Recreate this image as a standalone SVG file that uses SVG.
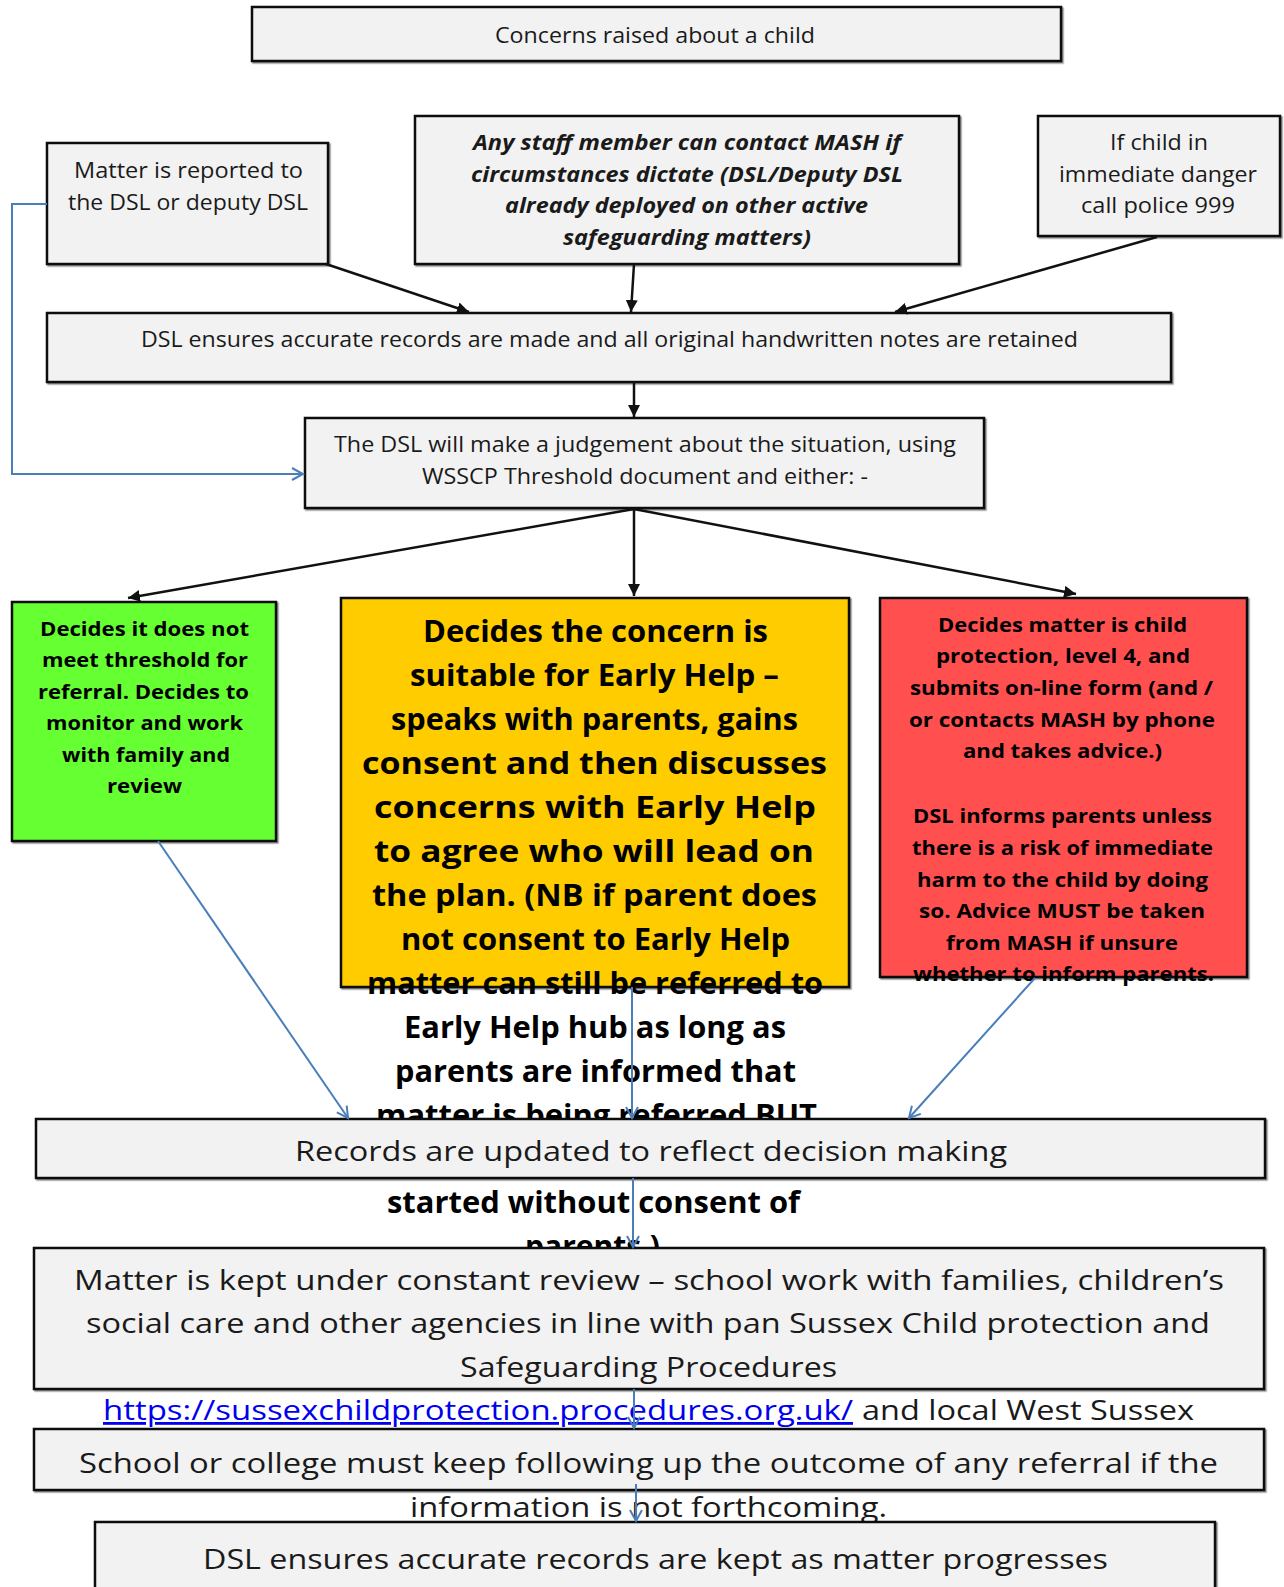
<svg xmlns="http://www.w3.org/2000/svg" width="1284" height="1587" viewBox="0 0 1284 1587">
<style>
.box{fill:#f2f2f2;stroke:#111;stroke-width:2.5;filter:url(#sh)}
.g{fill:#66ff33;stroke:#111;stroke-width:2.5;filter:url(#sh)}
.y{fill:#ffcc00;stroke:#111;stroke-width:2.5;filter:url(#sh)}
.r{fill:#ff5050;stroke:#111;stroke-width:2.5;filter:url(#sh)}
text{font-family:"Open Sans","Noto Sans","Liberation Sans",sans-serif;fill:#1a1a1a}
.t22{font-size:22px}
.t28{font-size:28px}
.bi{font-size:21px;font-weight:bold;font-style:italic}
.b20{font-size:20px;font-weight:bold;fill:#000}
.b30{font-size:30px;font-weight:bold;fill:#000}
.link{fill:#0000ee;text-decoration:underline}
.blk{stroke:#111;stroke-width:2.5;fill:none;marker-end:url(#ab)}
.blu{stroke:#4a7ebb;stroke-width:2;fill:none;marker-end:url(#au)}
</style>
<defs>
<filter id="sh" x="-5%" y="-5%" width="110%" height="115%">
<feDropShadow dx="1.5" dy="1.5" stdDeviation="0.7" flood-color="#000" flood-opacity="0.45"/>
</filter>
<marker id="ab" markerUnits="userSpaceOnUse" markerWidth="14" markerHeight="12" refX="12" refY="6" orient="auto">
<path d="M0,0 L12,6 L0,12 z" fill="#111"/>
</marker>
<marker id="au" markerUnits="userSpaceOnUse" markerWidth="14" markerHeight="14" refX="12" refY="7" orient="auto">
<path d="M1,1 L12,7 L1,13" fill="none" stroke="#4a7ebb" stroke-width="2"/>
</marker>
</defs>
<rect width="1284" height="1587" fill="#fff"/>

<g id="n-concerns">
<rect class="box" x="252" y="7" width="809" height="54"/>
<text class="t22" x="495" y="43" textLength="320" lengthAdjust="spacingAndGlyphs">Concerns raised about a child</text>
</g>

<g id="n-reported">
<rect class="box" x="47" y="143" width="281" height="121"/>
<text class="t22" x="74" y="178" textLength="229" lengthAdjust="spacingAndGlyphs">Matter is reported to</text>
<text class="t22" x="68" y="210" textLength="240" lengthAdjust="spacingAndGlyphs">the DSL or deputy DSL</text>
</g>

<g id="n-mash">
<rect class="box" x="415" y="116" width="544" height="148"/>
<text class="bi" x="473" y="150" textLength="428" lengthAdjust="spacingAndGlyphs">Any staff member can contact MASH if</text>
<text class="bi" x="471" y="182" textLength="432" lengthAdjust="spacingAndGlyphs">circumstances dictate (DSL/Deputy DSL</text>
<text class="bi" x="505" y="213" textLength="363" lengthAdjust="spacingAndGlyphs">already deployed on other active</text>
<text class="bi" x="563" y="245" textLength="248" lengthAdjust="spacingAndGlyphs">safeguarding matters)</text>
</g>

<g id="n-police">
<rect class="box" x="1038" y="116" width="242" height="120"/>
<text class="t22" x="1110" y="150" textLength="98" lengthAdjust="spacingAndGlyphs">If child in</text>
<text class="t22" x="1059" y="182" textLength="198" lengthAdjust="spacingAndGlyphs">immediate danger</text>
<text class="t22" x="1081" y="213" textLength="154" lengthAdjust="spacingAndGlyphs">call police 999</text>
</g>

<g id="n-records1">
<rect class="box" x="47" y="313" width="1124" height="69"/>
<text class="t22" x="141" y="347" textLength="937" lengthAdjust="spacingAndGlyphs">DSL ensures accurate records are made and all original handwritten notes are retained</text>
</g>

<g id="n-judgement">
<rect class="box" x="305" y="418" width="679" height="90"/>
<text class="t22" x="334" y="452" textLength="622" lengthAdjust="spacingAndGlyphs">The DSL will make a judgement about the situation, using</text>
<text class="t22" x="422" y="484" textLength="446" lengthAdjust="spacingAndGlyphs">WSSCP Threshold document and either: -</text>
</g>

<g id="n-green">
<rect class="g" x="12" y="602" width="264" height="239"/>
<text class="b20" x="40" y="636" textLength="209" lengthAdjust="spacingAndGlyphs">Decides it does not</text>
<text class="b20" x="42" y="667" textLength="206" lengthAdjust="spacingAndGlyphs">meet threshold for</text>
<text class="b20" x="38" y="699" textLength="211" lengthAdjust="spacingAndGlyphs">referral. Decides to</text>
<text class="b20" x="46" y="730" textLength="197" lengthAdjust="spacingAndGlyphs">monitor and work</text>
<text class="b20" x="62" y="762" textLength="168" lengthAdjust="spacingAndGlyphs">with family and</text>
<text class="b20" x="107" y="793" textLength="75" lengthAdjust="spacingAndGlyphs">review</text>
</g>

<g id="n-red">
<rect class="r" x="880" y="598" width="367" height="379"/>
<text class="b20" x="938" y="632" textLength="249" lengthAdjust="spacingAndGlyphs">Decides matter is child</text>
<text class="b20" x="936" y="663" textLength="254" lengthAdjust="spacingAndGlyphs">protection, level 4, and</text>
<text class="b20" x="910" y="695" textLength="303" lengthAdjust="spacingAndGlyphs">submits on-line form (and /</text>
<text class="b20" x="909" y="727" textLength="306" lengthAdjust="spacingAndGlyphs">or contacts MASH by phone</text>
<text class="b20" x="963" y="758" textLength="199" lengthAdjust="spacingAndGlyphs">and takes advice.)</text>
<text class="b20" x="913" y="823" textLength="299" lengthAdjust="spacingAndGlyphs">DSL informs parents unless</text>
<text class="b20" x="912" y="855" textLength="301" lengthAdjust="spacingAndGlyphs">there is a risk of immediate</text>
<text class="b20" x="917" y="887" textLength="291" lengthAdjust="spacingAndGlyphs">harm to the child by doing</text>
<text class="b20" x="919" y="918" textLength="286" lengthAdjust="spacingAndGlyphs">so. Advice MUST be taken</text>
<text class="b20" x="946" y="950" textLength="232" lengthAdjust="spacingAndGlyphs">from MASH if unsure</text>
<text class="b20" x="913" y="981" textLength="301" lengthAdjust="spacingAndGlyphs">whether to inform parents.</text>
</g>

<g id="n-yellow">
<rect class="y" x="341" y="598" width="508" height="389"/>
<text class="b30" x="423" y="642" textLength="345" lengthAdjust="spacingAndGlyphs">Decides the concern is</text>
<text class="b30" x="410" y="686" textLength="369" lengthAdjust="spacingAndGlyphs">suitable for Early Help –</text>
<text class="b30" x="391" y="730" textLength="407" lengthAdjust="spacingAndGlyphs">speaks with parents, gains</text>
<text class="b30" x="362" y="774" textLength="465" lengthAdjust="spacingAndGlyphs">consent and then discusses</text>
<text class="b30" x="374" y="818" textLength="442" lengthAdjust="spacingAndGlyphs">concerns with Early Help</text>
<text class="b30" x="374" y="862" textLength="440" lengthAdjust="spacingAndGlyphs">to agree who will lead on</text>
<text class="b30" x="372" y="906" textLength="445" lengthAdjust="spacingAndGlyphs">the plan. (NB if parent does</text>
<text class="b30" x="401" y="950" textLength="389" lengthAdjust="spacingAndGlyphs">not consent to Early Help</text>
<text class="b30" x="367" y="994" textLength="456" lengthAdjust="spacingAndGlyphs">matter can still be referred to</text>
<text class="b30" x="404" y="1038" textLength="382" lengthAdjust="spacingAndGlyphs">Early Help hub as long as</text>
<text class="b30" x="395" y="1082" textLength="401" lengthAdjust="spacingAndGlyphs">parents are informed that</text>
<text class="b30" x="376" y="1126" textLength="441" lengthAdjust="spacingAndGlyphs">matter is being referred BUT</text>
<text class="b30" x="387" y="1213" textLength="413" lengthAdjust="spacingAndGlyphs">started without consent of</text>
<text class="b30" x="525" y="1257" textLength="135" lengthAdjust="spacingAndGlyphs">parents.)</text>
</g>

<g id="n-updated">
<rect class="box" x="36" y="1119" width="1229" height="59"/>
<text class="t28" x="295" y="1161" textLength="712" lengthAdjust="spacingAndGlyphs">Records are updated to reflect decision making</text>
</g>

<g id="n-review">
<rect class="box" x="34" y="1248" width="1230" height="141"/>
<text class="t28" x="74" y="1290" textLength="1150" lengthAdjust="spacingAndGlyphs">Matter is kept under constant review – school work with families, children’s</text>
<text class="t28" x="86" y="1333" textLength="1124" lengthAdjust="spacingAndGlyphs">social care and other agencies in line with pan Sussex Child protection and</text>
<text class="t28" x="460" y="1377" textLength="377" lengthAdjust="spacingAndGlyphs">Safeguarding Procedures</text>
<text class="t28 link" x="103" y="1420" textLength="750" lengthAdjust="spacingAndGlyphs">https://sussexchildprotection.procedures.org.uk/</text>
<text class="t28" x="862" y="1420" textLength="332" lengthAdjust="spacingAndGlyphs">and local West Sussex</text>
</g>

<g id="n-followup">
<rect class="box" x="34" y="1429" width="1230" height="61"/>
<text class="t28" x="79" y="1473" textLength="1139" lengthAdjust="spacingAndGlyphs">School or college must keep following up the outcome of any referral if the</text>
<text class="t28" x="410" y="1517" textLength="477" lengthAdjust="spacingAndGlyphs">information is not forthcoming.</text>
</g>

<g id="n-final">
<rect class="box" x="95" y="1522" width="1120" height="80"/>
<text class="t28" x="203" y="1569" textLength="905" lengthAdjust="spacingAndGlyphs">DSL ensures accurate records are kept as matter progresses</text>
</g>

<g id="connectors">
<path class="blk" d="M326,264 L469,312"/>
<path class="blk" d="M634,264 L631,312"/>
<path class="blk" d="M1157,237 L895,312"/>
<path class="blk" d="M634,382 L634,417"/>
<path class="blk" d="M634,509 L128,598"/>
<path class="blk" d="M634,509 L634,596"/>
<path class="blk" d="M634,509 L1076,594"/>
<path class="blu" d="M47,204 L12,204 L12,474 L303,474"/>
<path class="blu" d="M158,841 L348,1118"/>
<path class="blu" d="M632,987 L632,1118"/>
<path class="blu" d="M1035,978 L909,1118"/>
<path class="blu" d="M633,1178 L633,1247"/>
<path class="blu" d="M634,1389 L634,1428"/>
<path class="blu" d="M636,1484 L636,1521"/>
</g>
</svg>
